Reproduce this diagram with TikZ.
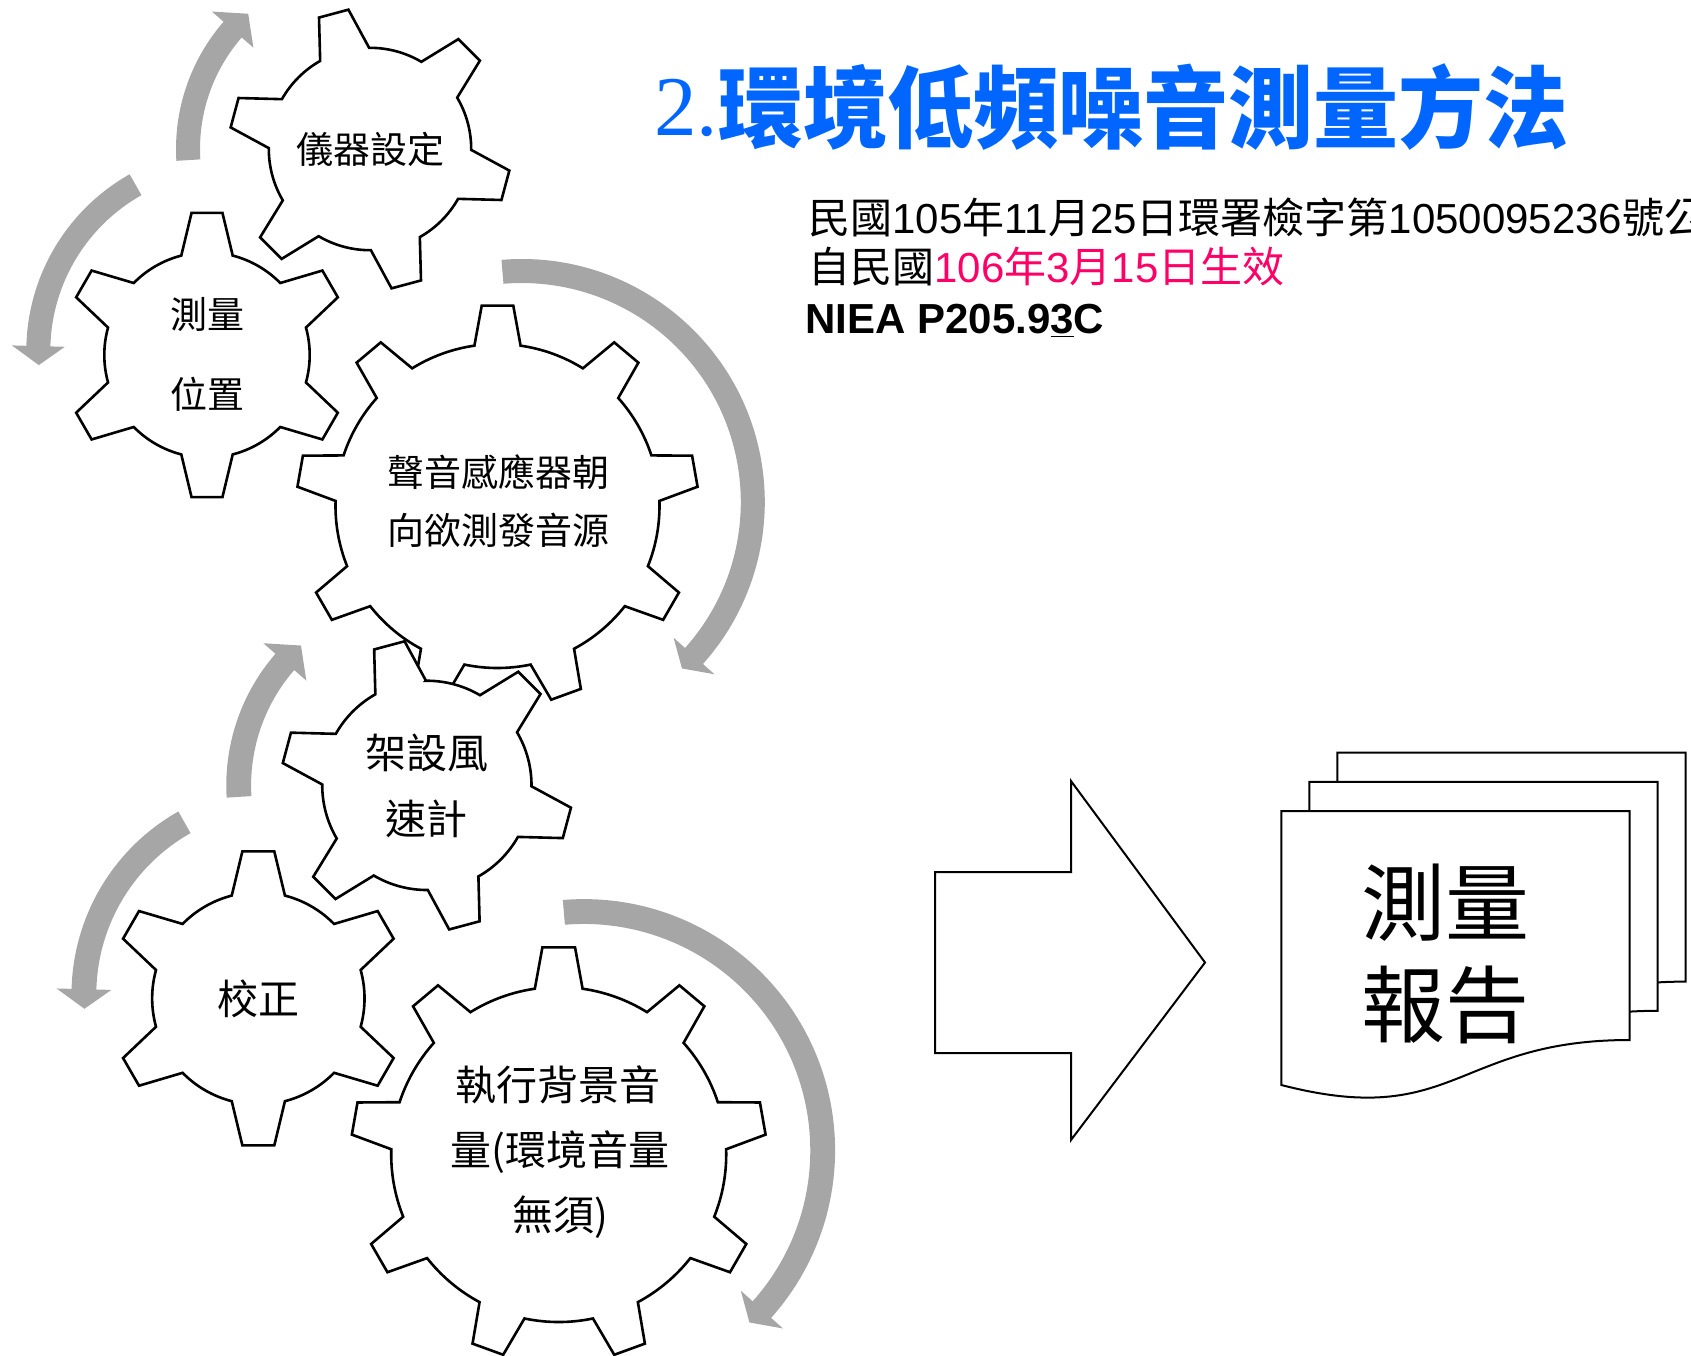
\documentclass[tikz,border=0pt]{standalone}
\usepackage{fontspec}
\usepackage{graphicx}
\setmainfont{Liberation Sans}
\newfontfamily\cjk{Noto Sans CJK TC}
\newfontfamily\tnr{Liberation Serif}
\definecolor{arrowgray}{RGB}{166,166,166}
\definecolor{titleblue}{RGB}{0,102,255}
\definecolor{datepink}{RGB}{255,0,102}
\tikzset{
  gearline/.style={draw=black, fill=white, line width=1.3pt, line join=miter},
  shapeline/.style={draw=black, fill=white, line width=1pt, line join=miter},
  gtxt/.style={inner sep=0pt, font=\cjk\fontsize{18.5}{18.5}\selectfont},
  gtxtb/.style={inner sep=0pt, font=\cjk\fontsize{20.5}{20.5}\selectfont},
  doctxt/.style={inner sep=0pt, font=\cjk\fontsize{42}{42}\selectfont},
  infotxt/.style={inner sep=0pt, anchor=base west, font=\fontsize{21}{21}\selectfont}
}
% gear: cx, cy, teeth, tip radius, root radius, first tooth angle, tip half-angle, base half-angle
\newcommand\gearshape[8]{%
  \pgfmathsetmacro\gstep{360/#3}%
  \pgfmathtruncatemacro\glast{#3-1}%
  \filldraw[gearline,shift={(#1,#2)}] ({#6-#8}:#5)
    \foreach \k in {0,...,\glast}{
      -- ({#6+\k*\gstep-#7}:#4) -- ({#6+\k*\gstep+#7}:#4) -- ({#6+\k*\gstep+#8}:#5)
      arc[start angle={#6+\k*\gstep+#8}, end angle={#6+(\k+1)*\gstep-#8}, radius=#5]
    } -- cycle;%
}
% curved arrow: cx, cy, mid radius, half width, tail angle, head base angle, tip angle, head half width
\newcommand\curvarrow[8]{%
  \pgfmathsetmacro\arOut{#3+#4}\pgfmathsetmacro\arIn{#3-#4}%
  \pgfmathsetmacro\arHo{#3+#8}\pgfmathsetmacro\arHi{#3-#8}%
  \fill[arrowgray,shift={(#1,#2)}] (#5:\arOut) arc[start angle=#5, end angle=#6, radius=\arOut]
    -- (#6:\arHo) -- (#7:#3) -- (#6:\arHi) -- (#6:\arIn)
    arc[start angle=#6, end angle=#5, radius=\arIn] -- cycle;%
}
\newcommand\gearset{%
  \curvarrow{370}{-149}{182}{12}{183.5}{139}{132}{27.5}%
  \curvarrow{229.3}{-351.1}{191}{12}{119.4}{178.5}{184.2}{26.5}%
  \curvarrow{521.8}{-502}{231}{12}{94.8}{-41.8}{-46.1}{27.4}%
  \gearshape{370}{-149}{6}{141}{101.2}{105}{6.2}{14.5}%
  \gearshape{207}{-355}{6}{143}{102.7}{90}{6.2}{14.5}%
  \gearshape{497.5}{-506}{9}{201}{162}{90}{4.5}{8.2}%
}
\newcommand\docpage[2]{%
  \filldraw[shapeline,shift={(#1,#2)}] (1281.4,-811) -- (1629.5,-811) -- (1629.5,-1040)
    .. controls (1455,-1040) and (1455,-1130) .. (1281.4,-1085) -- cycle;%
}
\begin{document}
\begin{tikzpicture}[x=0.5pt,y=0.5pt]
\useasboundingbox (0,0) rectangle (1691,-1355);
\clip (0,0) rectangle (1691,-1355);
% upper gear group
\gearset
% lower gear group (same layout, scaled and shifted)
\begin{scope}[shift={(44.3,-631.3)},scale=1.034]
\gearset
\end{scope}
% gear labels
\node[gtxt] (t1) at (370,-149) {儀器設定};
\node[gtxt] (t2a) at (207.5,-314) {測量};
\node[gtxt] (t2b) at (207.5,-394) {位置};
\node[gtxt] (t3a) at (498,-472) {聲音感應器朝};
\node[gtxt] (t3b) at (498,-530) {向欲測發音源};
\node[gtxtb] (t4a) at (426.5,-752.5) {架設風};
\node[gtxtb] (t4b) at (426.5,-819.2) {速計};
\node[gtxtb] (t5) at (258.3,-998.5) {校正};
\node[gtxtb] (t6a) at (558.3,-1085) {執行背景音};
\node[gtxtb] (t6b) at (560,-1151.7) {量(環境音量};
\node[gtxtb] (t6c) at (560,-1217.5) {無須)};
% title
\node[inner sep=0pt, anchor=base west, text=titleblue, font=\fontsize{42.5}{42.5}\selectfont] (title) at (654,-135)
  {{\tnr 2.}{\cjk\bfseries\raisebox{-3.2pt}{\scalebox{1}[1.05]{環境低頻噪音測量方法}}}};
% info lines
\node[infotxt] (l1) at (808,-233.3) {{\cjk 民國}105{\cjk 年}11{\cjk 月}25{\cjk 日環署檢字第}1050095236{\cjk 號公}};
\node[infotxt] (l2) at (808,-282.7) {{\cjk 自民國}{\color{datepink}106{\cjk 年}3{\cjk 月}15{\cjk 日生效}}};
\node[infotxt] (l3) at (805,-333.3) {\bfseries NIEA P205.9\underline{3}C};
% block arrow
\draw[shapeline] (935,-872) -- (1071,-872) -- (1071,-781) -- (1205,-962.5) -- (1071,-1140)
  -- (1071,-1053) -- (935,-1053) -- cycle;
% multi-document
\docpage{56}{58.4}
\docpage{28}{29.2}
\docpage{0}{0}
\node[doctxt] (r1) at (1445.4,-902.7) {測量};
\node[doctxt] (r2) at (1445.4,-1005) {報告};
\end{tikzpicture}
\end{document}
